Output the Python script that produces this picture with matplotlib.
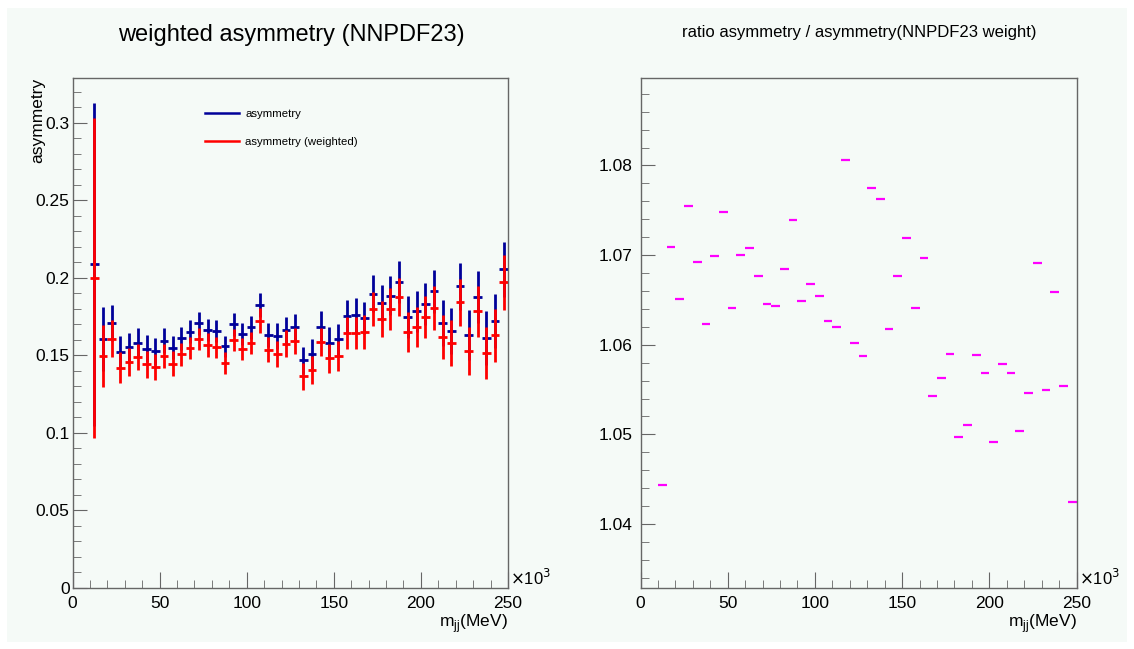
import matplotlib
matplotlib.use("Agg")
from matplotlib import pyplot as plt
from matplotlib.lines import Line2D
from matplotlib.patches import Rectangle
from matplotlib.ticker import MultipleLocator

plt.rcParams['font.family'] = ['Liberation Sans', 'DejaVu Sans']

# bin centres of m_jj in units of 10^3 MeV (bin width 5)
m_jj = [12.5, 17.5, 22.5, 27.5, 32.5, 37.5, 42.5, 47.5, 52.5, 57.5,
        62.5, 67.5, 72.5, 77.5, 82.5, 87.5, 92.5, 97.5, 102.5, 107.5,
        112.5, 117.5, 122.5, 127.5, 132.5, 137.5, 142.5, 147.5, 152.5, 157.5,
        162.5, 167.5, 172.5, 177.5, 182.5, 187.5, 192.5, 197.5, 202.5, 207.5,
        212.5, 217.5, 222.5, 227.5, 232.5, 237.5, 242.5, 247.5]
half_bin = 2.5

asym = [0.2088, 0.1606, 0.1710, 0.1523, 0.1555, 0.1581, 0.1544, 0.1527, 0.1596, 0.1551,
        0.1611, 0.1654, 0.1708, 0.1667, 0.1658, 0.1559, 0.1701, 0.1639, 0.1682, 0.1826,
        0.1632, 0.1626, 0.1667, 0.1684, 0.1469, 0.1512, 0.1684, 0.1581, 0.1605, 0.1753,
        0.1761, 0.1742, 0.1899, 0.1839, 0.1886, 0.1974, 0.1748, 0.1785, 0.1832, 0.1914,
        0.1710, 0.1658, 0.1945, 0.1630, 0.1880, 0.1615, 0.1723, 0.2056]
asym_err = [0.1041, 0.0207, 0.0118, 0.0101, 0.0093, 0.0094, 0.0086, 0.0088, 0.0079, 0.0075,
            0.0073, 0.0073, 0.0073, 0.0071, 0.0074, 0.0067, 0.0073, 0.0073, 0.0073, 0.0080,
            0.0078, 0.0084, 0.0084, 0.0082, 0.0086, 0.0097, 0.0101, 0.0101, 0.0101, 0.0108,
            0.0113, 0.0103, 0.0118, 0.0118, 0.0127, 0.0134, 0.0134, 0.0131, 0.0138, 0.0140,
            0.0151, 0.0148, 0.0154, 0.0162, 0.0168, 0.0175, 0.0172, 0.0176]

asym_w = [0.2000, 0.1497, 0.1609, 0.1422, 0.1456, 0.1490, 0.1443, 0.1424, 0.1497, 0.1448,
          0.1508, 0.1551, 0.1605, 0.1568, 0.1553, 0.1454, 0.1600, 0.1540, 0.1581, 0.1725,
          0.1538, 0.1510, 0.1577, 0.1594, 0.1366, 0.1405, 0.1587, 0.1482, 0.1497, 0.1645,
          0.1645, 0.1652, 0.1800, 0.1734, 0.1800, 0.1880, 0.1652, 0.1684, 0.1748, 0.1806,
          0.1619, 0.1579, 0.1843, 0.1529, 0.1785, 0.1516, 0.1630, 0.1972]
asym_w_err = [0.1032, 0.0200, 0.0119, 0.0099, 0.0090, 0.0086, 0.0086, 0.0084, 0.0075, 0.0078,
              0.0073, 0.0071, 0.0071, 0.0078, 0.0067, 0.0071, 0.0073, 0.0071, 0.0073, 0.0080,
              0.0080, 0.0084, 0.0087, 0.0082, 0.0086, 0.0092, 0.0090, 0.0095, 0.0097, 0.0100,
              0.0105, 0.0107, 0.0112, 0.0115, 0.0133, 0.0123, 0.0129, 0.0129, 0.0135, 0.0139,
              0.0139, 0.0149, 0.0153, 0.0157, 0.0166, 0.0165, 0.0172, 0.0176]

ratio = [1.0443, 1.0709, 1.0651, 1.0755, 1.0692, 1.0623, 1.0699, 1.0748, 1.0641, 1.0700,
         1.0708, 1.0677, 1.0646, 1.0643, 1.0685, 1.0739, 1.0649, 1.0668, 1.0654, 1.0626,
         1.0620, 1.0806, 1.0602, 1.0587, 1.0775, 1.0763, 1.0618, 1.0677, 1.0719, 1.0641,
         1.0697, 1.0543, 1.0563, 1.0590, 1.0497, 1.0510, 1.0588, 1.0569, 1.0491, 1.0579,
         1.0569, 1.0504, 1.0546, 1.0691, 1.0549, 1.0659, 1.0554, 1.0424]

bg = '#f5faf7'
frame_col = '#666666'

fig = plt.figure(figsize=(11.34, 6.49), dpi=100, facecolor='white')
fig.patches.append(Rectangle((7 / 1134, 7 / 649), 1 - 14 / 1134, 1 - 15 / 649,
                             transform=fig.transFigure, facecolor=bg,
                             edgecolor='none', zorder=-10))

ax1 = fig.add_axes([72.5 / 1134, 61 / 649, 435.5 / 1134, 510 / 649])
ax2 = fig.add_axes([640.5 / 1134, 61 / 649, 436 / 1134, 510 / 649])


def style_axes(ax, ymaj, ymin, ypad):
    ax.set_facecolor(bg)
    for s in ax.spines.values():
        s.set_color(frame_col)
        s.set_linewidth(1.0)
    ax.set_xlim(0, 250)
    ax.xaxis.set_major_locator(MultipleLocator(50))
    ax.xaxis.set_minor_locator(MultipleLocator(10))
    ax.yaxis.set_major_locator(MultipleLocator(ymaj))
    ax.yaxis.set_minor_locator(MultipleLocator(ymin))
    ax.tick_params(which='both', direction='in', color=frame_col, labelsize=12.5,
                   top=False, right=False)
    ax.tick_params(axis='x', which='major', length=11.5, pad=6)
    ax.tick_params(axis='x', which='minor', length=5.8)
    ax.tick_params(axis='y', which='major', length=9.9, pad=ypad)
    ax.tick_params(axis='y', which='minor', length=5.5)
    ax.text(1.005, 0.0, r'$\times$10$^{3}$', transform=ax.transAxes,
            fontsize=12, ha='left', va='bottom')
    ax.text(1.0, -0.047, r'm$_{\mathregular{jj}}$(MeV)', transform=ax.transAxes,
            fontsize=12.5, ha='right', va='top')


# 左图: asymmetry
style_axes(ax1, 0.05, 0.01, 2)
ax1.set_ylim(0, 0.329)
ax1.yaxis.set_major_formatter(matplotlib.ticker.FuncFormatter(lambda v, p: '%g' % round(v, 3)))
ax1.errorbar(m_jj, asym, xerr=half_bin, yerr=asym_err, fmt='none',
             ecolor='#000099', elinewidth=2.0, capsize=0)
ax1.errorbar(m_jj, asym_w, xerr=half_bin, yerr=asym_w_err, fmt='none',
             ecolor='#ff0000', elinewidth=2.0, capsize=0)
ax1.set_ylabel('asymmetry', fontsize=12.5)
ax1.yaxis.set_label_coords(-0.063, 1.0)
ax1.yaxis.label.set_horizontalalignment('right')

handles = [Line2D([], [], color='#000099', lw=1.8), Line2D([], [], color='#ff0000', lw=1.8)]
ax1.legend(handles, ['asymmetry', 'asymmetry (weighted)'], loc='upper left',
           bbox_to_anchor=(0.304, 0.94), frameon=False, fontsize=8.2,
           handlelength=3.0, handletextpad=0.55, labelspacing=1.65,
           borderpad=0, borderaxespad=0)

# 右图: ratio
style_axes(ax2, 0.01, 0.002, 6)
ax2.set_ylim(1.03286, 1.08976)
ax2.yaxis.set_major_formatter(matplotlib.ticker.FuncFormatter(lambda v, p: '%.2f' % v))
ax2.errorbar(m_jj, ratio, xerr=half_bin, fmt='none', ecolor='#ff00ff',
             elinewidth=1.6, capsize=0)

fig.text(291 / 1134, 1 - 35 / 649, 'weighted asymmetry (NNPDF23)', fontsize=17,
         ha='center', va='center')
fig.text(859 / 1134, 1 - 33 / 649, 'ratio asymmetry / asymmetry(NNPDF23 weight)',
         fontsize=12, ha='center', va='center')

fig.savefig('out.png', dpi=100, facecolor=fig.get_facecolor())
